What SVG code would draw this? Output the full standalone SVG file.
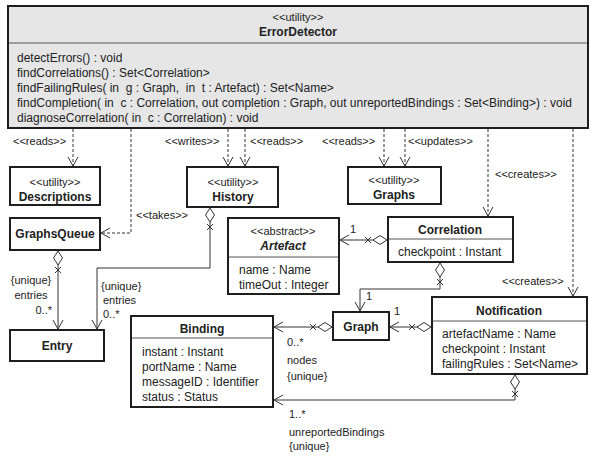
<svg xmlns="http://www.w3.org/2000/svg" xmlns:xlink="http://www.w3.org/1999/xlink" width="591" height="456" viewBox="0 0 591 456">
  <style>
    text { font-family: "Liberation Sans", Arial, sans-serif; fill: #222; }
    .box { fill: #fff; stroke: #1e1e1e; stroke-width: 2; }
    .main { fill: #e6e6e7; stroke: #1e1e1e; stroke-width: 2; }
    .sep { stroke: #555; stroke-width: 1; }
    .st { font-size: 11px; text-anchor: middle; }
    .nm { font-size: 12px; font-weight: bold; text-anchor: middle; }
    .at { font-size: 12px; }
    .pre { white-space: pre; }
    .lb { font-size: 11px; }
    .dash { fill: none; stroke: #333; stroke-width: 1; stroke-dasharray: 3 2; marker-end: url(#open); }
    .sol { fill: none; stroke: #333; stroke-width: 1; marker-end: url(#open); }
  </style>
  <defs>
    <marker id="open" viewBox="-11 -7 13 14" refX="0" refY="0" markerWidth="13" markerHeight="14" markerUnits="userSpaceOnUse" orient="auto">
      <path d="M-9,-5 L0,0 L-9,5" fill="none" stroke="#333" stroke-width="1" stroke-dasharray="none"/>
    </marker>
    <!-- aggregation end: hollow diamond at the owner, cross mark just past it -->
    <g id="agg">
      <polygon points="0,0 7,-4.5 14,0 7,4.5" fill="#fff" stroke="#333" stroke-width="1"/>
      <path d="M16,-3 L22,3 M16,3 L22,-3" stroke="#333" stroke-width="1" fill="none"/>
    </g>
  </defs>

  <!-- nodes -->
  <g id="ErrorDetector">
    <rect class="main" x="8" y="6" width="580" height="122"/>
    <line class="sep" x1="9" y1="43" x2="587" y2="43"/>
    <text class="st" x="298" y="21">&lt;&lt;utility&gt;&gt;</text>
    <text class="nm" x="298" y="36">ErrorDetector</text>
    <text class="at pre" x="17" y="62">detectErrors() : void</text>
    <text class="at pre" x="17" y="77">findCorrelations() : Set&lt;Correlation&gt;</text>
    <text class="at pre" x="17" y="92">findFailingRules( in  g : Graph,  in  t : Artefact) : Set&lt;Name&gt;</text>
    <text class="at pre" x="17" y="107">findCompletion( in  c : Correlation, out completion : Graph, out unreportedBindings : Set&lt;Binding&gt;) : void</text>
    <text class="at pre" x="17" y="122">diagnoseCorrelation( in  c : Correlation) : void</text>
  </g>

  <g id="Descriptions">
    <rect class="box" x="10" y="167" width="90" height="38"/>
    <text class="st" x="55" y="186">&lt;&lt;utility&gt;&gt;</text>
    <text class="nm" x="55" y="201">Descriptions</text>
  </g>

  <g id="History">
    <rect class="box" x="187" y="167" width="91" height="40"/>
    <text class="st" x="233" y="186">&lt;&lt;utility&gt;&gt;</text>
    <text class="nm" x="233" y="201">History</text>
  </g>

  <g id="Graphs">
    <rect class="box" x="348" y="167" width="93" height="37"/>
    <text class="st" x="394" y="184">&lt;&lt;utility&gt;&gt;</text>
    <text class="nm" x="394" y="199">Graphs</text>
  </g>

  <g id="GraphsQueue">
    <rect class="box" x="10" y="218" width="90" height="32"/>
    <text class="nm" x="55" y="238">GraphsQueue</text>
  </g>

  <g id="Artefact">
    <rect class="box" x="228" y="218" width="111" height="76"/>
    <line class="sep" x1="229" y1="257" x2="338" y2="257"/>
    <text class="st" x="283" y="235">&lt;&lt;abstract&gt;&gt;</text>
    <text class="nm" x="283" y="250" font-style="italic">Artefact</text>
    <text class="at" x="239" y="274">name : Name</text>
    <text class="at" x="239" y="289">timeOut : Integer</text>
  </g>

  <g id="Correlation">
    <rect class="box" x="388" y="217" width="125" height="45"/>
    <line class="sep" x1="389" y1="239" x2="512" y2="239"/>
    <text class="nm" x="450" y="234">Correlation</text>
    <text class="at" x="398" y="256">checkpoint : Instant</text>
  </g>

  <g id="Graph">
    <rect class="box" x="333" y="312" width="56" height="28"/>
    <text class="nm" x="361" y="331">Graph</text>
  </g>

  <g id="Notification">
    <rect class="box" x="432" y="297" width="155" height="77"/>
    <line class="sep" x1="433" y1="321" x2="586" y2="321"/>
    <text class="nm" x="509" y="315">Notification</text>
    <text class="at" x="442" y="338">artefactName : Name</text>
    <text class="at" x="442" y="353">checkpoint : Instant</text>
    <text class="at" x="442" y="368">failingRules : Set&lt;Name&gt;</text>
  </g>

  <g id="Binding">
    <rect class="box" x="131" y="316" width="142" height="91"/>
    <line class="sep" x1="132" y1="338" x2="272" y2="338"/>
    <text class="nm" x="202" y="333">Binding</text>
    <text class="at" x="142" y="356">instant : Instant</text>
    <text class="at" x="142" y="371">portName : Name</text>
    <text class="at" x="142" y="386">messageID : Identifier</text>
    <text class="at" x="142" y="401">status : Status</text>
  </g>

  <g id="Entry">
    <rect class="box" x="10" y="330" width="94" height="31"/>
    <text class="nm" x="57" y="350">Entry</text>
  </g>

  <!-- connectors -->
  <g id="connectors">
    <!-- dependencies from ErrorDetector -->
    <path class="dash" d="M73,129 V166"/>
    <path class="dash" d="M131,129 V233 H101"/>
    <path class="dash" d="M228,129 V166"/>
    <path class="dash" d="M245,129 V166"/>
    <path class="dash" d="M384,129 V166"/>
    <path class="dash" d="M405,129 V166"/>
    <path class="dash" d="M488,129 V216"/>
    <path class="dash" d="M573,129 V296"/>

    <!-- associations -->
    <path class="sol" d="M58,264 V329"/>
    <path class="sol" d="M210,221 V268 H97 V329"/>
    <path class="sol" d="M374,240 H340"/>
    <path class="sol" d="M440,276 V289 H360 V311"/>
    <path class="sol" d="M319,327 H274"/>
    <path class="sol" d="M418,327 H390"/>
    <path class="sol" d="M515,388 V400 H274"/>

    <use xlink:href="#agg" transform="translate(58,251) rotate(90)"/>
    <use xlink:href="#agg" transform="translate(210,208) rotate(90)"/>
    <use xlink:href="#agg" transform="translate(387,240) rotate(180)"/>
    <use xlink:href="#agg" transform="translate(440,263) rotate(90)"/>
    <use xlink:href="#agg" transform="translate(332,327) rotate(180)"/>
    <use xlink:href="#agg" transform="translate(431,327) rotate(180)"/>
    <use xlink:href="#agg" transform="translate(515,375) rotate(90)"/>

    <!-- labels -->
    <g class="lb">
      <text x="13" y="145">&lt;&lt;reads&gt;&gt;</text>
      <text x="165" y="145">&lt;&lt;writes&gt;&gt;</text>
      <text x="250" y="145">&lt;&lt;reads&gt;&gt;</text>
      <text x="322" y="145">&lt;&lt;reads&gt;&gt;</text>
      <text x="408" y="145">&lt;&lt;updates&gt;&gt;</text>
      <text x="136" y="219">&lt;&lt;takes&gt;&gt;</text>
      <text x="495" y="178">&lt;&lt;creates&gt;&gt;</text>
      <text x="502" y="285">&lt;&lt;creates&gt;&gt;</text>

      <text x="31" y="284" text-anchor="middle">{unique}</text>
      <text x="31" y="299" text-anchor="middle">entries</text>
      <text x="52" y="314" text-anchor="end">0..*</text>

      <text x="101" y="290">{unique}</text>
      <text x="103" y="304">entries</text>
      <text x="103" y="318">0..*</text>

      <text x="350" y="233">1</text>
      <text x="366" y="300">1</text>
      <text x="394" y="315">1</text>

      <text x="287" y="346">0..*</text>
      <text x="287" y="364">nodes</text>
      <text x="287" y="380">{unique}</text>

      <text x="289" y="418">1..*</text>
      <text x="289" y="436">unreportedBindings</text>
      <text x="289" y="450">{unique}</text>
    </g>
  </g>
</svg>
